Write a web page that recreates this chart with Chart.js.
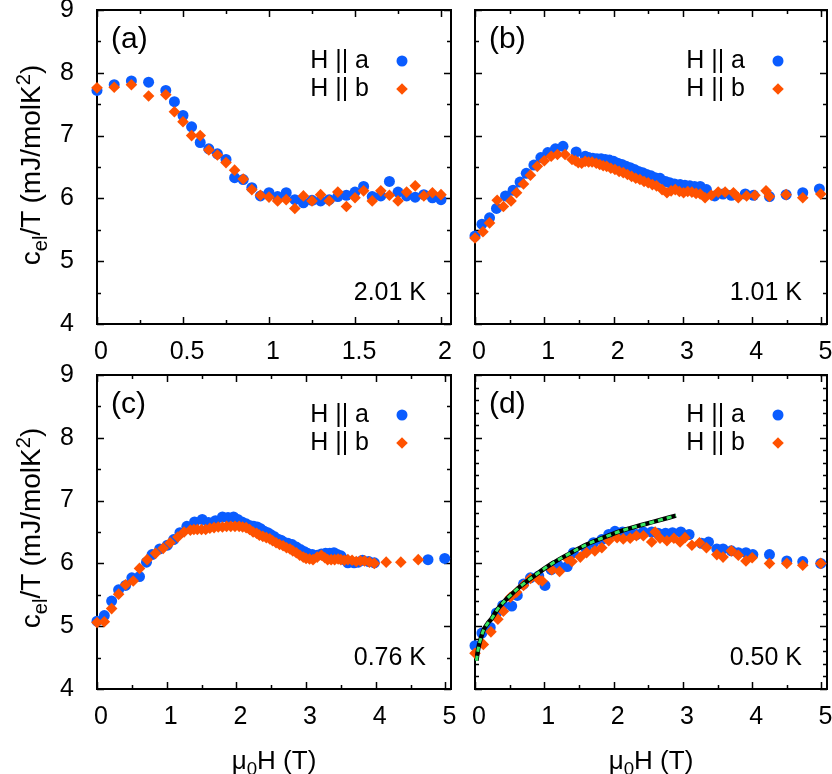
<!DOCTYPE html>
<html>
<head>
<meta charset="utf-8">
<script src="https://cdn.jsdelivr.net/npm/chart.js@4.4.0/dist/chart.umd.min.js"></script>
<style>
  body { margin: 0; background: #fff; }
  #wrap { position: relative; width: 832px; height: 774px; font-family: "Liberation Sans", Arial, sans-serif; color: #000; }
  #wrap canvas { position: absolute; }
  .ytitle, .xtitle { position: absolute; white-space: nowrap; line-height: 1; }
  .ytitle { font-size: 28px; transform: translate(-50%, -50%) rotate(-90deg); }
  .xtitle { font-size: 26px; transform: translate(-50%, -50%); }
  sub, sup { font-size: 72%; line-height: 0; }
</style>
</head>
<body>
<div id="wrap">
  <canvas id="pa" width="462" height="370" style="left:0;top:0"></canvas>
  <canvas id="pb" width="370" height="370" style="left:462px;top:0"></canvas>
  <canvas id="pc" width="462" height="429" style="left:0;top:345px"></canvas>
  <canvas id="pd" width="370" height="429" style="left:462px;top:345px"></canvas>
  <div class="ytitle" style="left:31px;top:165px">c<sub>el</sub>/T (mJ/molK<sup>2</sup>)</div>
  <div class="ytitle" style="left:31px;top:528px">c<sub>el</sub>/T (mJ/molK<sup>2</sup>)</div>
  <div class="xtitle" style="left:274px;top:760px">μ<sub>0</sub>H (T)</div>
  <div class="xtitle" style="left:651px;top:760px">μ<sub>0</sub>H (T)</div>
</div>
<script>
// ---------- tick labels ----------
const xTicksA = [0, 0.5, 1, 1.5, 2];
const xTicks = [0, 1, 2, 3, 4, 5];
const yTicks = [4, 5, 6, 7, 8, 9];

// ---------- (a) 2.01 K ----------
const fieldA = [0, 0.1, 0.2, 0.3, 0.4, 0.45, 0.5, 0.55, 0.6, 0.65, 0.7, 0.75, 0.8, 0.85, 0.9, 0.95, 1.0,
  1.05, 1.1, 1.15, 1.2, 1.25, 1.3, 1.35, 1.4, 1.45, 1.5, 1.55, 1.6, 1.65, 1.7, 1.75, 1.8, 1.85, 1.9, 1.95, 2.0];
const cA_ha = [7.72, 7.81, 7.87, 7.85, 7.72, 7.54, 7.32, 7.14, 6.89, 6.79, 6.71, 6.62, 6.33, 6.30, 6.17, 6.04, 6.09,
  6.03, 6.09, 5.98, 5.93, 5.97, 5.96, 5.98, 6.03, 6.05, 6.10, 6.19, 6.03, 6.04, 6.27, 6.10, 6.04, 6.02, 6.06, 6.01, 5.98];
const cA_hb = [7.76, 7.77, 7.81, 7.63, 7.65, 7.38, 7.22, 7.00, 7.00, 6.77, 6.69, 6.57, 6.45, 6.31, 6.14, 6.05, 6.02,
  5.96, 5.98, 5.84, 6.04, 5.96, 6.06, 5.96, 6.10, 5.87, 6.01, 6.12, 5.96, 6.12, 6.05, 5.96, 6.10, 6.20, 6.04, 6.09, 6.06];

// ---------- (b) 1.01 K ----------
const fieldB_ha = [0, 0.10, 0.21, 0.31, 0.44, 0.55, 0.65, 0.74, 0.85, 0.95, 1.05, 1.16, 1.27, 1.46, 1.59, 1.64, 1.70,
  1.76, 1.82, 1.88, 1.94, 2.00, 2.06, 2.12, 2.18, 2.24, 2.30, 2.36, 2.42, 2.48, 2.54, 2.60, 2.67, 2.75, 2.81, 2.88,
  2.96, 3.03, 3.10, 3.17, 3.25, 3.34, 3.46, 3.58, 3.70, 3.90, 4.02, 4.25, 4.49, 4.73, 4.97];
const cB_ha = [5.40, 5.59, 5.69, 5.84, 6.04, 6.13, 6.26, 6.40, 6.53, 6.65, 6.73, 6.79, 6.83, 6.74, 6.67, 6.65, 6.64,
  6.63, 6.63, 6.62, 6.61, 6.59, 6.56, 6.54, 6.51, 6.49, 6.46, 6.43, 6.41, 6.38, 6.36, 6.33, 6.32, 6.27, 6.25, 6.23,
  6.22, 6.21, 6.20, 6.19, 6.19, 6.14, 6.04, 6.07, 6.05, 6.07, 6.05, 6.03, 6.06, 6.09, 6.15];
const fieldB_hb = [0, 0.115, 0.21, 0.32, 0.41, 0.52, 0.60, 0.70, 0.80, 0.90, 1.00, 1.10, 1.19, 1.30, 1.40, 1.45, 1.49,
  1.54, 1.59, 1.64, 1.69, 1.75, 1.80, 1.85, 1.90, 1.96, 2.02, 2.08, 2.14, 2.20, 2.26, 2.32, 2.38, 2.44, 2.50, 2.56,
  2.62, 2.70, 2.77, 2.83, 2.89, 2.95, 3.01, 3.07, 3.13, 3.19, 3.25, 3.32, 3.41, 3.51, 3.61, 3.73, 3.80, 3.92, 4.04,
  4.20, 4.25, 4.49, 4.73, 4.99];
const cB_hb = [5.37, 5.47, 5.61, 5.97, 5.87, 5.96, 6.09, 6.23, 6.37, 6.51, 6.60, 6.67, 6.70, 6.70, 6.62, 6.60, 6.57,
  6.56, 6.59, 6.58, 6.58, 6.56, 6.54, 6.52, 6.51, 6.48, 6.46, 6.43, 6.41, 6.38, 6.35, 6.32, 6.30, 6.27, 6.25, 6.22,
  6.20, 6.14, 6.09, 6.12, 6.14, 6.11, 6.09, 6.11, 6.10, 6.08, 6.07, 6.01, 6.05, 6.10, 6.10, 6.09, 6.01, 6.04, 6.05,
  6.12, 6.03, 6.06, 6.01, 6.07];

// ---------- (c) 0.76 K ----------
const fieldC_ha = [0, 0.105, 0.21, 0.31, 0.41, 0.50, 0.61, 0.71, 0.79, 0.90, 1.01, 1.10, 1.19, 1.29, 1.40, 1.51, 1.60,
  1.70, 1.80, 1.88, 1.96, 2.02, 2.08, 2.14, 2.20, 2.25, 2.30, 2.35, 2.40, 2.45, 2.49, 2.54, 2.59, 2.64, 2.68, 2.74,
  2.80, 2.86, 2.92, 2.97, 3.02, 3.09, 3.16, 3.22, 3.28, 3.34, 3.40, 3.45, 3.50, 3.55, 3.60, 3.69, 3.75, 3.81, 3.90,
  3.98, 4.75, 4.99];
const cC_ha = [5.08, 5.17, 5.40, 5.58, 5.65, 5.77, 5.79, 6.02, 6.14, 6.23, 6.29, 6.38, 6.49, 6.59, 6.66, 6.70, 6.65,
  6.68, 6.74, 6.73, 6.74, 6.70, 6.66, 6.63, 6.60, 6.59, 6.58, 6.55, 6.51, 6.49, 6.46, 6.43, 6.39, 6.37, 6.34, 6.32,
  6.30, 6.26, 6.22, 6.19, 6.16, 6.14, 6.13, 6.15, 6.16, 6.16, 6.17, 6.14, 6.12, 6.06, 6.01, 6.01, 6.02, 6.05, 6.03,
  6.01, 6.06, 6.08];
const fieldC_hb = [0, 0.105, 0.21, 0.31, 0.41, 0.52, 0.61, 0.72, 0.84, 0.95, 1.05, 1.16, 1.25, 1.34, 1.39, 1.44, 1.50,
  1.56, 1.62, 1.68, 1.74, 1.80, 1.86, 1.92, 1.98, 2.04, 2.09, 2.14, 2.19, 2.24, 2.29, 2.33, 2.38, 2.43, 2.48, 2.52,
  2.57, 2.62, 2.67, 2.72, 2.77, 2.81, 2.86, 2.91, 2.96, 3.00, 3.05, 3.10, 3.16, 3.22, 3.27, 3.31, 3.36, 3.41, 3.46,
  3.50, 3.55, 3.60, 3.66, 3.72, 3.78, 3.84, 3.91, 3.98, 4.15, 4.36, 4.61];
const cC_hb = [5.06, 5.07, 5.28, 5.51, 5.66, 5.72, 5.92, 6.06, 6.16, 6.24, 6.33, 6.42, 6.50, 6.53, 6.54, 6.54, 6.54,
  6.54, 6.56, 6.57, 6.58, 6.58, 6.59, 6.59, 6.59, 6.59, 6.58, 6.57, 6.54, 6.50, 6.48, 6.45, 6.43, 6.41, 6.39, 6.36,
  6.33, 6.30, 6.28, 6.25, 6.23, 6.20, 6.17, 6.13, 6.10, 6.08, 6.07, 6.06, 6.10, 6.13, 6.09, 6.06, 6.06, 6.06, 6.07,
  6.06, 6.05, 6.06, 6.05, 6.03, 6.04, 6.04, 6.02, 6.00, 6.02, 6.02, 6.06];

// ---------- (d) 0.50 K ----------
const fieldD_ha = [0, 0.10, 0.22, 0.31, 0.40, 0.53, 0.61, 0.70, 0.80, 0.92, 1.01, 1.10, 1.20, 1.33, 1.42, 1.61, 1.71,
  1.83, 1.93, 2.02, 2.13, 2.24, 2.33, 2.43, 2.55, 2.64, 2.75, 2.85, 2.97, 3.09, 3.27, 3.37, 3.49, 3.58, 3.70, 3.80,
  3.91, 4.01, 4.25, 4.50, 4.73, 4.99];
const cD_ha = [4.69, 4.89, 4.98, 5.21, 5.33, 5.32, 5.49, 5.67, 5.77, 5.80, 5.65, 5.90, 5.97, 5.95, 6.17, 6.21, 6.33,
  6.38, 6.46, 6.51, 6.50, 6.50, 6.46, 6.50, 6.50, 6.48, 6.48, 6.49, 6.50, 6.46, 6.32, 6.34, 6.23, 6.23, 6.20, 6.17,
  6.17, 6.14, 6.14, 6.04, 6.03, 6.00];
const fieldD_hb = [0, 0.12, 0.23, 0.33, 0.41, 0.51, 0.60, 0.70, 0.80, 0.92, 0.97, 1.11, 1.22, 1.33, 1.40, 1.52, 1.61,
  1.73, 1.83, 1.93, 2.05, 2.14, 2.24, 2.33, 2.43, 2.55, 2.60, 2.67, 2.77, 2.87, 2.96, 3.03, 3.13, 3.24, 3.34, 3.49,
  3.58, 3.70, 3.80, 3.91, 4.00, 4.25, 4.50, 4.73, 4.99];
const cD_hb = [4.57, 4.71, 4.91, 5.11, 5.24, 5.46, 5.54, 5.65, 5.76, 5.74, 5.72, 5.90, 5.87, 6.08, 6.03, 6.10, 6.17,
  6.20, 6.25, 6.36, 6.41, 6.39, 6.40, 6.44, 6.44, 6.34, 6.50, 6.40, 6.36, 6.40, 6.34, 6.41, 6.29, 6.33, 6.25, 6.14,
  6.10, 6.20, 6.13, 6.04, 6.09, 6.00, 6.00, 5.97, 6.00];
// fit curve drawn over (d)
const fitField = [0.02, 0.05, 0.08, 0.12, 0.18, 0.24, 0.32, 0.41, 0.52, 0.65, 0.89, 1.13, 1.37, 1.61, 1.85, 2.09, 2.33, 2.57, 2.90];
const fitC = [4.45, 4.66, 4.79, 4.93, 5.04, 5.12, 5.26, 5.38, 5.50, 5.63, 5.83, 6.01, 6.16, 6.30, 6.41, 6.51, 6.59, 6.66, 6.76];

// ---------- drawing ----------
const BLUE = "#0a5cff";
const ORANGE = "#ff5200";
const FONT = "Liberation Sans, Arial, sans-serif";

function toXY(xs, ys) {
  return xs.map((x, i) => ({ x, y: ys[i] }));
}

function mark(ctx, style, x, y, r, color) {
  ctx.fillStyle = color;
  ctx.beginPath();
  if (style === "circle") {
    ctx.arc(x, y, r, 0, Math.PI * 2);
  } else {
    ctx.moveTo(x - r, y);
    ctx.lineTo(x, y - r);
    ctx.lineTo(x + r, y);
    ctx.lineTo(x, y + r);
    ctx.closePath();
  }
  ctx.fill();
}

// frame with inward ticks on all four sides, plus the labels inside the panel
const framePlugin = {
  id: "frame",
  beforeDatasetsDraw(chart, args, o) {
    const { ctx, chartArea: a } = chart;
    const sx = chart.scales.x, sy = chart.scales.y;
    ctx.save();
    ctx.strokeStyle = "#000";
    ctx.lineWidth = 1.5;
    ctx.beginPath();
    for (let i = 0; sx.min + i * o.xMinor <= sx.max + 1e-9; i++) {
      const v = sx.min + i * o.xMinor;
      const len = Math.abs(v / o.xMajor - Math.round(v / o.xMajor)) < 1e-6 ? 7 : 4;
      const px = Math.round(sx.getPixelForValue(v)) + 0.5;
      ctx.moveTo(px, a.bottom); ctx.lineTo(px, a.bottom - len);
      ctx.moveTo(px, a.top); ctx.lineTo(px, a.top + len);
    }
    for (let i = 0; sy.min + i * o.yMinor <= sy.max + 1e-9; i++) {
      const v = sy.min + i * o.yMinor;
      const len = Math.abs(v - Math.round(v)) < 1e-6 ? 7 : 4;
      const py = Math.round(sy.getPixelForValue(v)) + 0.5;
      ctx.moveTo(a.left, py); ctx.lineTo(a.left + len, py);
      ctx.moveTo(a.right, py); ctx.lineTo(a.right - len, py);
    }
    ctx.stroke();
    ctx.lineWidth = 2;
    ctx.strokeRect(a.left, a.top, a.right - a.left, a.bottom - a.top);
    ctx.restore();
  },
  afterDatasetsDraw(chart, args, o) {
    const { ctx, chartArea: a } = chart;
    ctx.save();
    ctx.fillStyle = "#000";
    ctx.textBaseline = "middle";
    ctx.font = "30px " + FONT;
    ctx.textAlign = "left";
    ctx.fillText(o.label, a.left + 14, a.top + 30);
    ctx.font = "25px " + FONT;
    ctx.textAlign = "right";
    ctx.fillText(o.temp, a.right - 25, a.bottom - 31);
    // legend: text, then marker to its right
    const items = chart.data.datasets.slice(0, 2);
    items.forEach((ds, i) => {
      const ly = a.top + o.legendTop + i * 28;
      ctx.fillStyle = "#000";
      ctx.font = "25px " + FONT;
      ctx.fillText(ds.label, a.right - 82, ly);
      mark(ctx, ds.pointStyle, a.right - 49, ly, ds.pointRadius, ds.backgroundColor);
    });
    ctx.restore();
  },
};

function makePanel(id, p) {
  const datasets = [
    { label: "H || a", data: toXY(p.xa, p.ya), pointStyle: "circle", pointRadius: 5.5,
      backgroundColor: BLUE, borderColor: BLUE, borderWidth: 0, order: 2, clip: false },
    { label: "H || b", data: toXY(p.xb, p.yb), pointStyle: "rectRot", pointRadius: 5.8,
      backgroundColor: ORANGE, borderColor: ORANGE, borderWidth: 0, order: 1, clip: false },
  ];
  if (p.fitX) {
    datasets.push(
      { label: "fit", data: toXY(p.fitX, p.fitY), showLine: true, pointRadius: 0, borderColor: "#000",
        borderWidth: 4.5, cubicInterpolationMode: "monotone", order: 0 },
      { label: "fit2", data: toXY(p.fitX, p.fitY), showLine: true, pointRadius: 0, borderColor: "#38e860",
        borderWidth: 3, borderDash: [5, 4], cubicInterpolationMode: "monotone", order: -1 }
    );
  }
  const tickFont = { family: FONT, size: 25 };
  new Chart(document.getElementById(id), {
    type: "scatter",
    data: { datasets },
    options: {
      responsive: false,
      animation: false,
      events: [],
      layout: { padding: p.pad, autoPadding: false },
      plugins: {
        legend: { display: false },
        tooltip: { enabled: false },
        frame: { label: p.label, temp: p.temp, xMinor: p.xMinor, xMajor: p.xMajor, yMinor: p.yMinor, legendTop: p.legendTop },
      },
      scales: {
        x: {
          type: "linear", min: 0, max: p.xMax,
          grid: { display: false, drawTicks: false }, border: { display: false },
          ticks: { font: tickFont, color: "#000", padding: 13, labelOffset: 4, maxRotation: 0, callback: (v) => String(v) },
          afterBuildTicks: (s) => { s.ticks = p.xTicks.map((v) => ({ value: v })); },
          afterFit: (s) => { s.height = p.xh; s.paddingLeft = 0; s.paddingRight = 0; },
        },
        y: {
          type: "linear", min: 4, max: 9,
          grid: { display: false, drawTicks: false }, border: { display: false },
          ticks: { display: p.yLabels, font: tickFont, color: "#000", padding: 23, callback: (v) => String(v) },
          afterBuildTicks: (s) => { s.ticks = yTicks.map((v) => ({ value: v })); },
          afterFit: (s) => { s.width = p.yw; s.paddingTop = 0; s.paddingBottom = 0; },
        },
      },
    },
    plugins: [framePlugin],
  });
}

makePanel("pa", { xa: fieldA, ya: cA_ha, xb: fieldA, yb: cA_hb, label: "(a)", temp: "2.01 K",
  xMax: 2.058, xTicks: xTicksA, xMinor: 0.25, xMajor: 0.5, yMinor: 0.5, legendTop: 51,
  yLabels: true, yw: 97, xh: 46, pad: { top: 10, right: 11, left: 0, bottom: 0 } });
makePanel("pb", { xa: fieldB_ha, ya: cB_ha, xb: fieldB_hb, yb: cB_hb, label: "(b)", temp: "1.01 K",
  xMax: 5.08, xTicks: xTicks, xMinor: 0.5, xMajor: 1, yMinor: 0.5, legendTop: 51,
  yLabels: false, yw: 13, xh: 46, pad: { top: 10, right: 5, left: 0, bottom: 0 } });
makePanel("pc", { xa: fieldC_ha, ya: cC_ha, xb: fieldC_hb, yb: cC_hb, label: "(c)", temp: "0.76 K",
  xMax: 5.08, xTicks: xTicks, xMinor: 0.5, xMajor: 1, yMinor: 0.5, legendTop: 40,
  yLabels: true, yw: 97, xh: 85, pad: { top: 30, right: 11, left: 0, bottom: 0 } });
makePanel("pd", { xa: fieldD_ha, ya: cD_ha, xb: fieldD_hb, yb: cD_hb, fitX: fitField, fitY: fitC,
  label: "(d)", temp: "0.50 K",
  xMax: 5.08, xTicks: xTicks, xMinor: 0.5, xMajor: 1, yMinor: 0.2, legendTop: 40,
  yLabels: false, yw: 13, xh: 85, pad: { top: 30, right: 5, left: 0, bottom: 0 } });
</script>
</body>
</html>
